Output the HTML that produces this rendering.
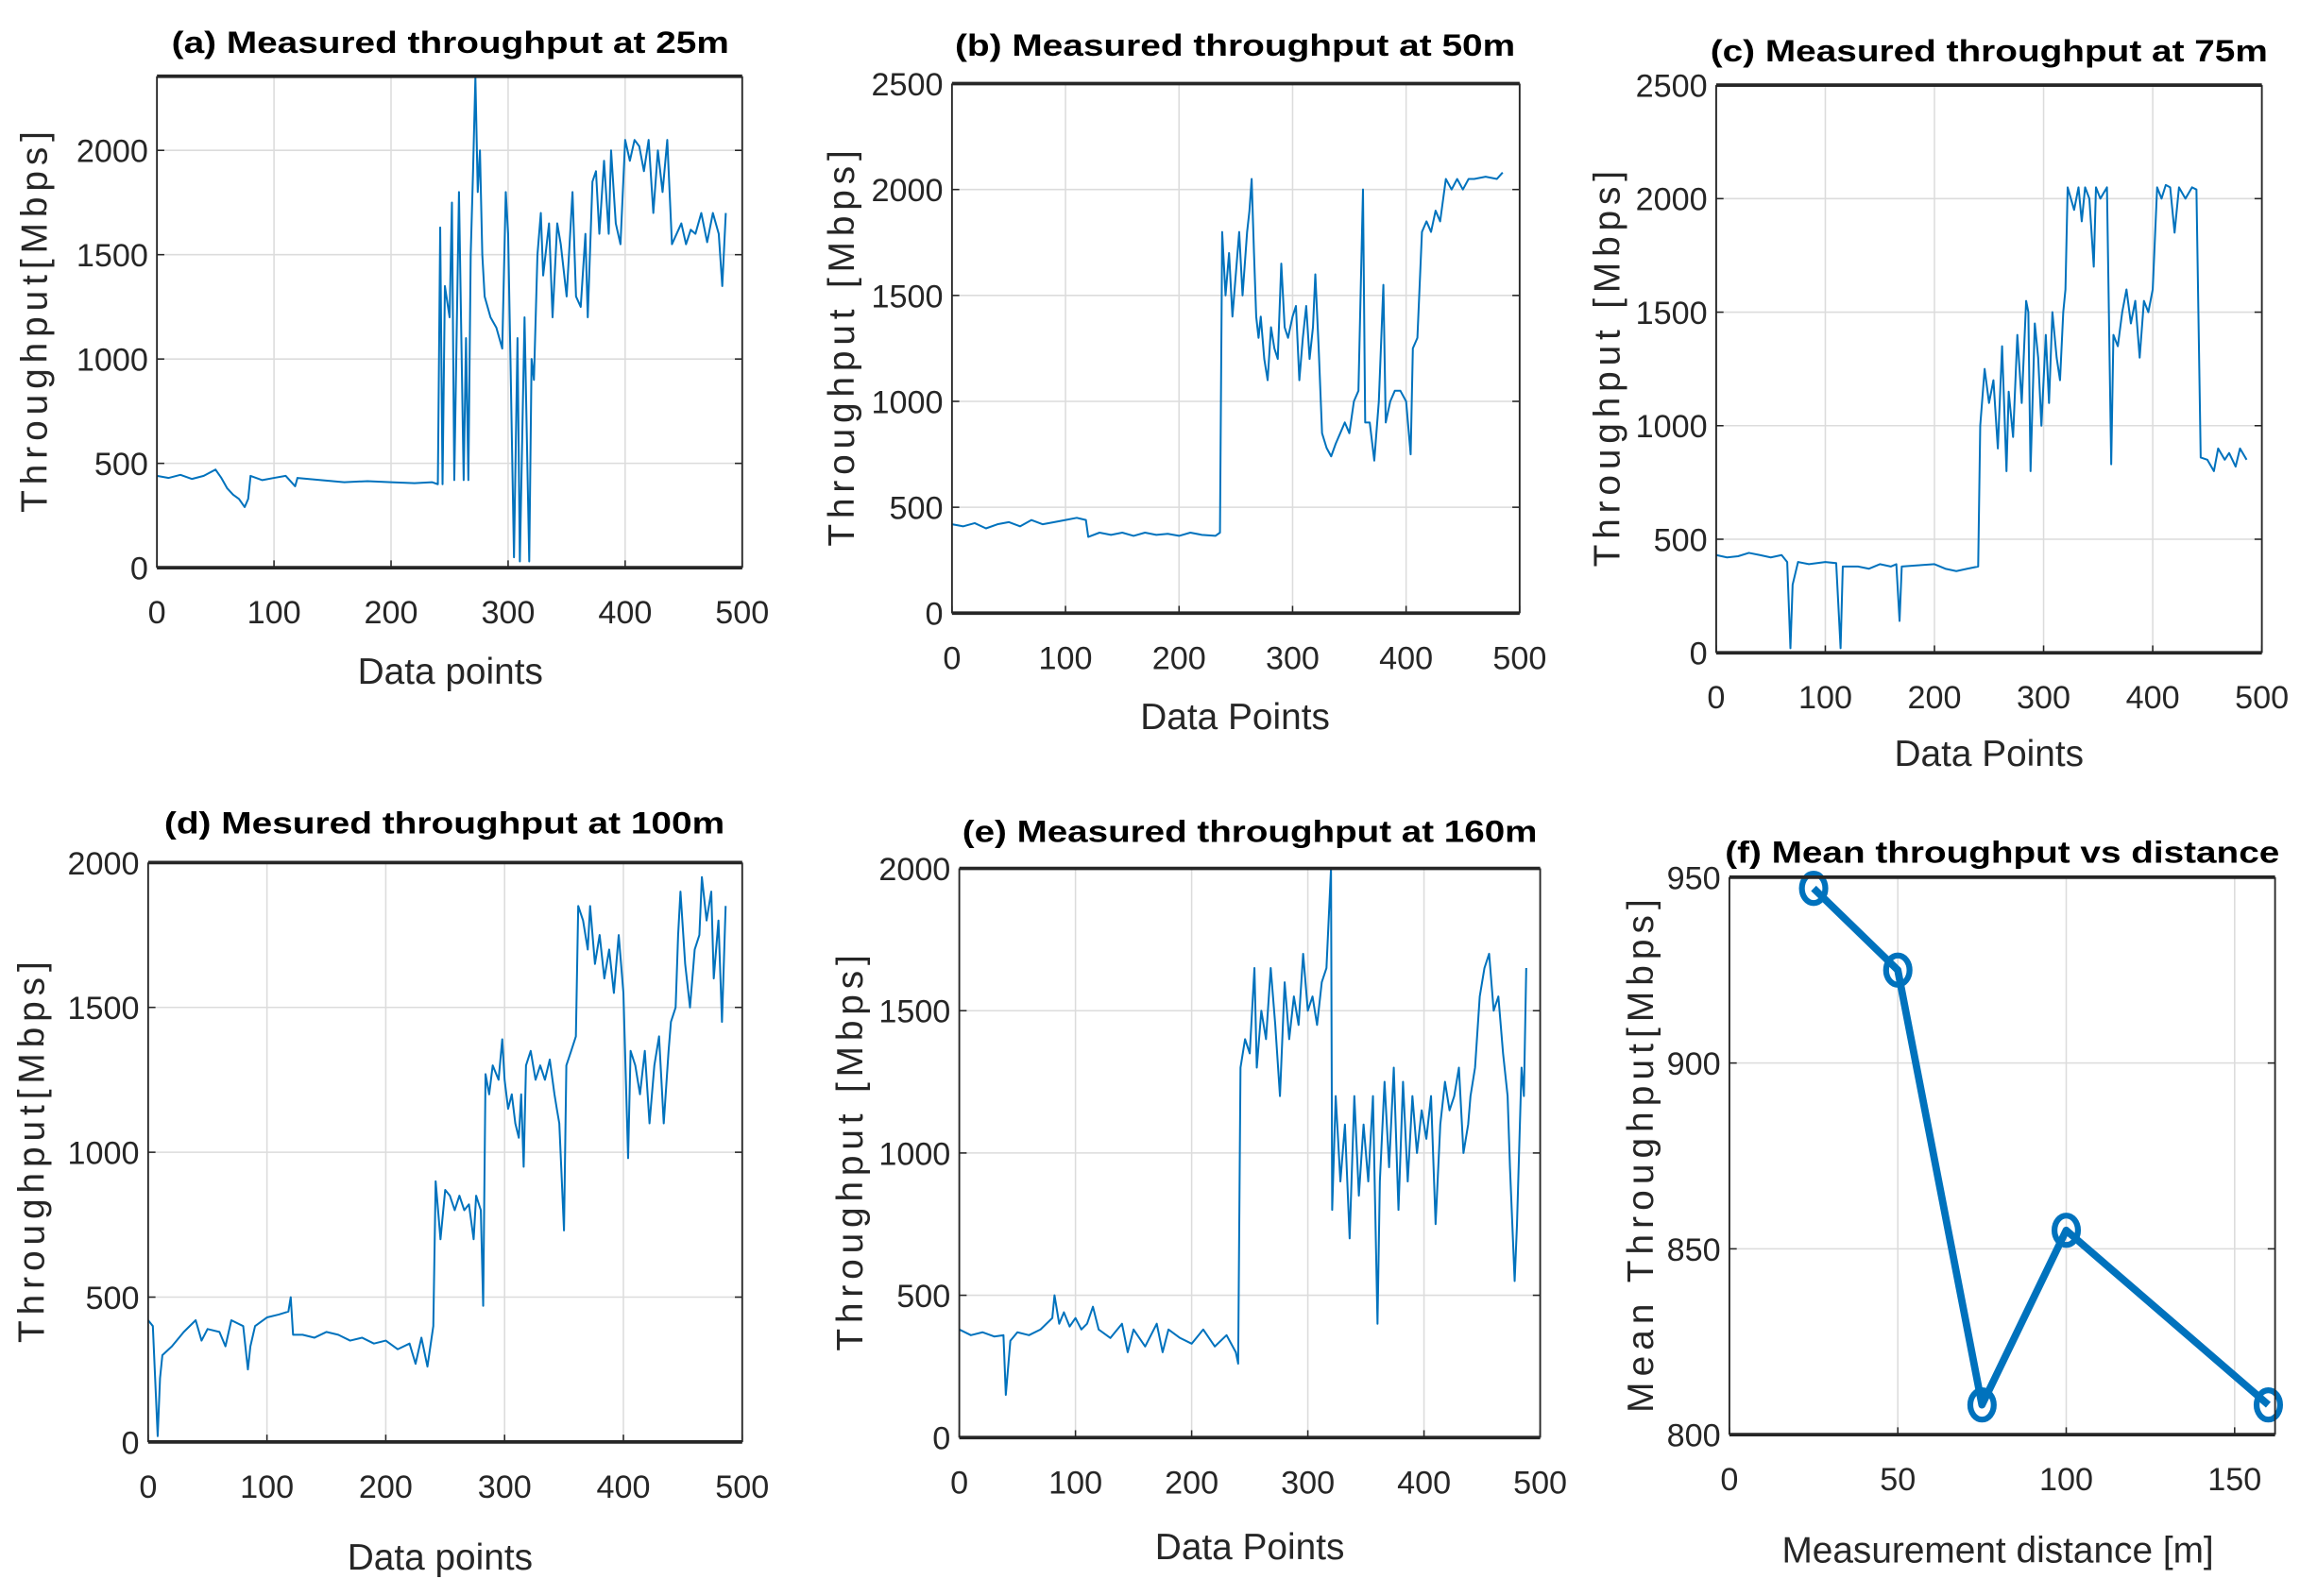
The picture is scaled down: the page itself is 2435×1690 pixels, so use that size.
<!DOCTYPE html>
<html><head><meta charset="utf-8"><style>
html,body{margin:0;padding:0;background:#fff;}
svg{display:block;font-family:"Liberation Sans",sans-serif;}
.title{font-weight:bold;font-size:21px;}
.tick{font-size:22px;fill:#262626;}
.lab{font-size:25px;fill:#262626;}
</style></head><body>
<svg id="fig" width="2435" height="1690" viewBox="0 0 1568 1088" preserveAspectRatio="none" xmlns="http://www.w3.org/2000/svg"></svg>
<script>
const aX=[0,10,20,30,40,50,55,60,65,70,75,78,80,90,100,110,118,120,140,160,180,200,220,235,240,242,244,246,250,252,254,258,262,264,266,268,270,272,274,276,278,280,285,290,295,298,300,302,305,308,310,314,318,320,322,325,328,330,335,338,342,345,350,355,358,362,366,368,372,375,378,382,386,388,392,396,400,404,408,412,416,420,424,428,432,436,440,444,448,452,456,460,465,470,475,480,483,486];
const aY=[440,430,445,425,440,470,430,380,350,330,290,330,440,420,430,440,390,430,420,410,415,410,405,410,400,1630,400,1350,1200,1750,420,1800,420,1100,420,1500,1900,2350,1800,2000,1500,1300,1200,1150,1050,1800,1600,1000,50,1100,30,1200,30,1000,900,1500,1700,1400,1650,1200,1650,1550,1300,1800,1300,1250,1600,1200,1850,1900,1600,1950,1600,2000,1650,1550,2050,1950,2050,2020,1900,2050,1700,2000,1800,2050,1550,1600,1650,1550,1620,1600,1700,1560,1700,1600,1350,1700];
const bX=[0,10,20,30,40,50,60,70,80,90,100,110,118,120,130,140,150,160,170,180,190,200,210,220,232,236,238,241,244,247,250,253,256,260,262,264,266,268,270,272,275,278,281,284,287,290,293,296,300,303,306,309,312,315,318,320,323,326,330,334,338,342,346,350,354,358,362,364,368,372,376,380,382,386,390,395,400,404,406,410,414,418,422,426,430,435,440,445,450,455,460,470,480,485];
const bY=[420,410,425,400,420,430,410,440,420,430,440,450,440,360,380,370,380,365,380,370,375,365,380,370,365,380,1800,1500,1700,1400,1600,1800,1500,1800,1900,2050,1700,1400,1300,1400,1200,1100,1350,1250,1200,1650,1350,1300,1400,1450,1100,1300,1450,1200,1350,1600,1250,850,780,740,800,850,900,850,1000,1050,2000,900,900,720,1000,1550,900,1000,1050,1050,1000,750,1250,1300,1800,1850,1800,1900,1850,2050,2000,2050,2000,2050,2050,2060,2050,2080];
const cX=[0,10,20,30,40,50,60,65,68,70,75,85,100,110,114,116,130,140,150,160,165,168,170,185,200,210,220,230,240,242,246,250,254,258,262,266,268,272,276,280,284,286,288,292,295,298,302,305,308,312,315,318,320,322,325,328,332,335,338,342,346,348,352,358,362,364,368,372,376,380,384,388,392,396,400,404,408,412,416,420,424,430,436,440,444,450,456,460,466,470,476,480,486];
const cY=[430,420,425,440,430,420,430,400,20,300,400,390,400,395,20,380,380,370,390,380,390,140,380,385,390,370,360,370,380,1000,1250,1100,1200,900,1350,800,1150,950,1400,1100,1550,1500,800,1450,1300,1000,1400,1100,1500,1300,1200,1500,1600,2050,2000,1950,2050,1900,2050,2000,1700,2050,2000,2050,830,1400,1350,1500,1600,1450,1550,1300,1550,1500,1600,2050,2000,2060,2050,1850,2050,2000,2050,2040,860,850,800,900,850,880,820,900,850];
const dX=[0,4,8,10,12,20,30,40,45,50,60,65,70,80,84,86,90,100,110,118,120,122,130,140,150,160,170,180,190,200,210,220,225,230,235,240,242,246,250,254,258,262,266,270,274,276,280,282,284,287,290,295,298,300,303,306,309,312,314,316,318,322,326,330,334,338,342,344,346,350,352,356,360,362,366,370,372,376,380,384,388,392,396,400,404,406,410,414,418,422,426,430,434,438,440,444,446,448,452,456,460,464,466,470,474,476,480,483,486];
const dY=[420,400,20,220,300,330,380,420,350,390,380,330,420,400,250,330,400,430,440,450,500,370,370,360,380,370,350,360,340,350,320,340,270,360,260,400,900,700,870,850,800,850,800,820,700,850,800,470,1270,1200,1300,1250,1390,1250,1150,1200,1100,1050,1200,950,1300,1350,1250,1300,1250,1320,1200,1150,1100,730,1300,1350,1400,1850,1800,1700,1850,1650,1750,1600,1700,1550,1750,1550,980,1350,1300,1200,1350,1100,1300,1400,1100,1350,1450,1500,1750,1900,1650,1500,1700,1750,1950,1800,1900,1600,1800,1450,1850];
const eX=[0,10,20,30,38,40,44,50,60,70,80,82,86,90,95,100,105,110,115,120,130,140,145,150,160,170,175,180,190,200,210,220,230,238,240,242,246,250,254,256,260,264,268,272,276,280,284,288,292,296,300,304,308,312,316,320,321,324,328,332,336,340,344,348,352,356,360,362,366,370,374,378,382,386,390,394,398,402,406,410,414,418,422,426,430,434,438,440,444,448,452,456,460,464,468,472,474,478,480,484,486,488];
const eY=[380,360,370,355,360,150,340,370,360,380,420,500,400,440,390,420,380,400,460,380,350,400,300,380,320,400,300,380,350,330,380,320,360,300,260,1300,1400,1350,1650,1300,1500,1400,1650,1450,1200,1600,1400,1550,1450,1700,1500,1550,1450,1600,1650,2000,800,1200,900,1100,700,1200,850,1100,900,1200,400,900,1250,950,1300,800,1250,900,1200,1000,1150,1050,1200,750,1100,1250,1150,1200,1300,1000,1100,1200,1300,1550,1650,1700,1500,1550,1350,1200,950,550,750,1300,1200,1650];
const fDist=[25,50,75,100,160];
const fMean=[947,925,808,855,808];

const NS="http://www.w3.org/2000/svg";
const svg=document.getElementById('fig');
function mk(tag,attrs,parent){const e=document.createElementNS(NS,tag);for(const k in attrs)e.setAttribute(k,attrs[k]);(parent||svg).appendChild(e);return e;}
function txt(s,attrs,parent){const e=mk('text',attrs,parent);e.textContent=s;return e;}

function panel(id,P,xs,ys,style){
  const g=mk('g',{});
  
  
  const sx=v=>P.l+(v-P.x0)/(P.x1-P.x0)*(P.r-P.l);
  const sy=v=>P.b-(v-P.y0)/(P.y1-P.y0)*(P.b-P.t);
  mk('rect',{x:P.l,y:P.t,width:P.r-P.l,height:P.b-P.t,fill:'#fff'},g);
  P.xt.forEach(v=>{
    const gl=mk('line',{x1:sx(v),x2:sx(v),y1:P.t,y2:P.b,stroke:'#dcdcdc','stroke-width':1},g);
    
    
    mk('line',{x1:sx(v),x2:sx(v),y1:P.b,y2:P.b-5,stroke:'#262626','stroke-width':1},g);
    const t=txt(String(v),{x:sx(v),y:P.b+38,'text-anchor':'middle',class:'tick'},g);
    
    
  });
  P.yt.forEach(v=>{
    const gl=mk('line',{x1:P.l,x2:P.r,y1:sy(v),y2:sy(v),stroke:'#dcdcdc','stroke-width':1},g);
    
    
    mk('line',{x1:P.l,x2:P.l+5,y1:sy(v),y2:sy(v),stroke:'#262626','stroke-width':1},g);
    mk('line',{x1:P.r,x2:P.r-5,y1:sy(v),y2:sy(v),stroke:'#262626','stroke-width':1},g);
    const t=txt(String(v),{x:P.l-6,y:sy(v)+8,'text-anchor':'end',class:'tick'},g);
    
    
  });
  const pts=xs.map((x,i)=>sx(x).toFixed(1)+','+sy(ys[i]).toFixed(1)).join(' ');
  const line=mk('polyline',{points:pts,fill:'none',stroke:'#0072bd','stroke-width':style==='thick'?5:1.3,'stroke-linejoin':'round'},g);
  
  
  if(style==='thick'){
    xs.forEach((x,i)=>{
      const c=mk('ellipse',{cx:sx(x),cy:sy(ys[i]),rx:8,ry:10,fill:'none',stroke:'#0072bd','stroke-width':4},g);
      
      
    });
  }
  mk('line',{x1:P.l,x2:P.l,y1:P.t,y2:P.b,stroke:'#262626','stroke-width':1.2},g);
  mk('line',{x1:P.r,x2:P.r,y1:P.t,y2:P.b,stroke:'#262626','stroke-width':1.2},g);
  mk('line',{x1:P.l,x2:P.r,y1:P.t,y2:P.t,stroke:'#262626','stroke-width':2.4},g);
  mk('line',{x1:P.l,x2:P.r,y1:P.b,y2:P.b,stroke:'#262626','stroke-width':2.4},g);
  const ti=txt(P.title,{x:P.tx,y:P.ty,'text-anchor':'middle',class:'title',textLength:P.tw,lengthAdjust:'spacingAndGlyphs'},g);
  
  
  const xl=txt(P.xlab,{x:P.xlx,y:P.xly,'text-anchor':'middle',class:'lab'},g);
  
  
  const yl=txt(P.ylab,{x:0,y:0,'text-anchor':'middle',class:'lab',transform:`translate(${P.ylx},${(P.t+P.b)/2}) rotate(-90)`,textLength:P.yw,lengthAdjust:'spacing'},g);
  
  
}
const XT=[0,100,200,300,400,500];
panel('a',{l:107,r:506,t:52,b:387,x0:0,x1:500,y0:0,y1:2355,xt:XT,yt:[0,500,1000,1500,2000],title:'(a) Measured throughput at 25m',tx:307,ty:36,tw:380,xlab:'Data points',xlx:307,xly:466,ylab:'Throughput[Mbps]',ylx:32,yw:260},aX,aY,'thin');
panel('b',{l:649,r:1036,t:57,b:418,x0:0,x1:500,y0:0,y1:2500,xt:XT,yt:[0,500,1000,1500,2000,2500],title:'(b) Measured throughput at 50m',tx:842,ty:38,tw:382,xlab:'Data Points',xlx:842,xly:497,ylab:'Throughput [Mbps]',ylx:582,yw:270},bX,bY,'thin');
panel('c',{l:1170,r:1542,t:58,b:445,x0:0,x1:500,y0:0,y1:2500,xt:XT,yt:[0,500,1000,1500,2000,2500],title:'(c) Measured throughput at 75m',tx:1356,ty:42,tw:380,xlab:'Data Points',xlx:1356,xly:522,ylab:'Throughput [Mbps]',ylx:1104,yw:270},cX,cY,'thin');
panel('d',{l:101,r:506,t:588,b:983,x0:0,x1:500,y0:0,y1:2000,xt:XT,yt:[0,500,1000,1500,2000],title:'(d) Mesured throughput at 100m',tx:303,ty:568,tw:382,xlab:'Data points',xlx:300,xly:1070,ylab:'Throughput[Mbps]',ylx:30,yw:260},dX,dY,'thin');
panel('e',{l:654,r:1050,t:592,b:980,x0:0,x1:500,y0:0,y1:2000,xt:XT,yt:[0,500,1000,1500,2000],title:'(e) Measured throughput at 160m',tx:852,ty:574,tw:392,xlab:'Data Points',xlx:852,xly:1063,ylab:'Throughput [Mbps]',ylx:588,yw:270},eX,eY,'thin');
panel('f',{l:1179,r:1551,t:598,b:978,x0:0,x1:162,y0:800,y1:950,xt:[0,50,100,150],yt:[800,850,900,950],title:'(f) Mean throughput vs distance',tx:1365,ty:588,tw:378,xlab:'Measurement distance [m]',xlx:1362,xly:1065,ylab:'Mean Throughput[Mbps]',ylx:1127,yw:350},fDist,fMean,'thick');
</script>
</body></html>
